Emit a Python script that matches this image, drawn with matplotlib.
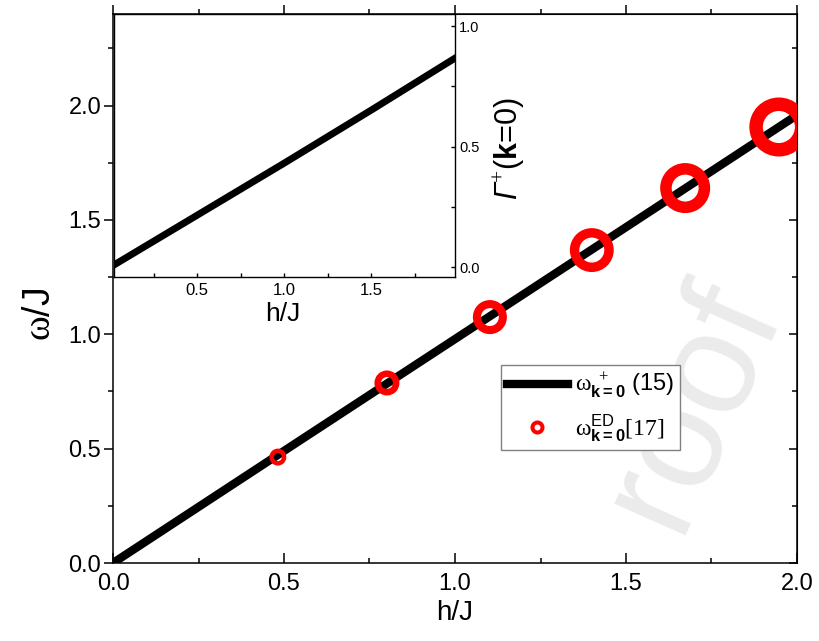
import matplotlib
matplotlib.use("Agg")
import matplotlib.pyplot as plt
from matplotlib.lines import Line2D
from matplotlib.ticker import MultipleLocator

plt.rcParams['font.family'] = ['Liberation Sans', 'DejaVu Sans']
plt.rcParams['mathtext.fontset'] = 'custom'
plt.rcParams['mathtext.rm'] = 'Liberation Serif'
plt.rcParams['mathtext.it'] = 'Liberation Sans:italic'
plt.rcParams['mathtext.bf'] = 'Liberation Sans:bold'
plt.rcParams['mathtext.sf'] = 'Liberation Sans'
plt.rcParams['mathtext.cal'] = 'Liberation Sans:italic'

# omega^+_{k=0}, eq. (15)
h_line = [0.0, 0.5, 1.0, 1.5, 2.0]
omega_line = [0.0, 0.49, 0.979, 1.468, 1.958]
# exact diagonalisation [17]
h_ed = [0.482, 0.801, 1.102, 1.40, 1.673, 1.947]
omega_ed = [0.463, 0.787, 1.075, 1.368, 1.639, 1.906]
# inset: Gamma^+(k=0)
h_inset = [0.0, 0.5, 1.0, 1.5, 2.0]
gamma_inset = [0.0, 0.216, 0.432, 0.652, 0.876]

labels = [r'$\mathrm{\omega}^{\ +}_{\mathbf{k=0}}$ (15)',
          r'$\mathrm{\omega}^{\mathsf{ED}}_{\mathbf{k=0}}\mathrm{[17]}$']

# ring sizes grow along the ED series
ed_ms = [9, 13.3, 18.7, 24.8, 27.7, 32.8]
ed_mew = [3.2, 4.7, 5.8, 6.8, 8.3, 9.7]

fig = plt.figure(figsize=(8.2, 6.41), dpi=100)

# watermark behind everything
fig.text(693/820, 1-405/641, 'roof', rotation=66, fontsize=105, color='#ebebeb',
         ha='center', va='center', zorder=-1)

ax = fig.add_axes([113/820, 1-563/641, 684/820, 549/641])
ax.set_facecolor('none')
ax.plot(h_line, omega_line, color='k', lw=6, zorder=2)
ax.scatter(h_ed, omega_ed, s=[m**2 for m in ed_ms], facecolors='none',
           edgecolors='#ff0000', linewidths=ed_mew, zorder=3)
ax.set_xlim(0, 2.0)
ax.set_ylim(0, 2.4)
ax.xaxis.set_major_locator(MultipleLocator(0.5))
ax.xaxis.set_minor_locator(MultipleLocator(0.25))
ax.yaxis.set_major_locator(MultipleLocator(0.5))
ax.yaxis.set_minor_locator(MultipleLocator(0.25))
ax.tick_params(axis='x', which='both', direction='in', top=False, labelsize=17, pad=7, width=1.1)
ax.tick_params(axis='x', which='major', length=7)
ax.tick_params(axis='x', which='minor', length=3.6)
ax.tick_params(axis='y', which='both', direction='out', right=False, labelsize=17, pad=2, width=1.1)
ax.tick_params(axis='y', which='major', length=6.5)
ax.tick_params(axis='y', which='minor', length=3.6)
for sp in ax.spines.values():
    sp.set_linewidth(1.1)

top = ax.secondary_xaxis('top')
top.xaxis.set_major_locator(MultipleLocator(0.5))
top.xaxis.set_minor_locator(MultipleLocator(0.25))
top.tick_params(which='both', direction='out', labeltop=False, width=1.1)
top.tick_params(which='major', length=6.5)
top.tick_params(which='minor', length=3.6)
right = ax.secondary_yaxis('right')
right.yaxis.set_major_locator(MultipleLocator(0.5))
right.yaxis.set_minor_locator(MultipleLocator(0.25))
right.tick_params(which='both', direction='in', labelright=False, width=1.1)
right.tick_params(which='major', length=5.8)
right.tick_params(which='minor', length=3.6)

ax.set_xlabel('h/J', fontsize=20)
ax.xaxis.set_label_coords(0.5, -0.067)
ax.set_ylabel(r'$\mathrm{\omega}$/J', fontsize=27)
ax.yaxis.set_label_coords(-0.080, 0.452)

handles = [Line2D([], [], color='k', lw=6),
           Line2D([], [], ls='none', marker='o', ms=7.2, mew=2.9, mfc='none', mec='#ff0000')]
leg = ax.legend(handles, labels, loc='upper left', bbox_to_anchor=(0.567, 0.3607),
                borderaxespad=0, fontsize=17, fancybox=False, edgecolor='#808080',
                framealpha=1, handlelength=2.6, handletextpad=0.3, borderpad=0.25,
                labelspacing=0.5)
leg.get_frame().set_linewidth(1.0)

# inset
axin = fig.add_axes([114/820, 1-277/641, 341/820, 263/641])
axin.plot(h_inset, gamma_inset, color='k', lw=5)
axin.set_xlim(0.023, 1.98)
axin.set_ylim(-0.04, 1.05)
axin.xaxis.set_major_locator(MultipleLocator(0.5))
axin.xaxis.set_minor_locator(MultipleLocator(0.25))
axin.yaxis.set_major_locator(MultipleLocator(0.5))
axin.yaxis.set_minor_locator(MultipleLocator(0.25))
axin.yaxis.tick_right()
axin.tick_params(axis='x', which='both', direction='in', length=3, width=1, labelsize=12, pad=4)
axin.tick_params(axis='y', which='both', direction='in', length=3, width=1, labelsize=10.5, pad=3)
for sp in axin.spines.values():
    sp.set_linewidth(1.0)
axin.set_xlabel('h/J', fontsize=19)
axin.xaxis.set_label_coords(0.496, -0.095)
axin.yaxis.set_label_position('right')
axin.set_ylabel(r'$\mathcal{\Gamma}^{+}$($\mathbf{k}$=0)', fontsize=22)
axin.yaxis.set_label_coords(1.108, 0.49)

fig.savefig('out.png', dpi=100)
